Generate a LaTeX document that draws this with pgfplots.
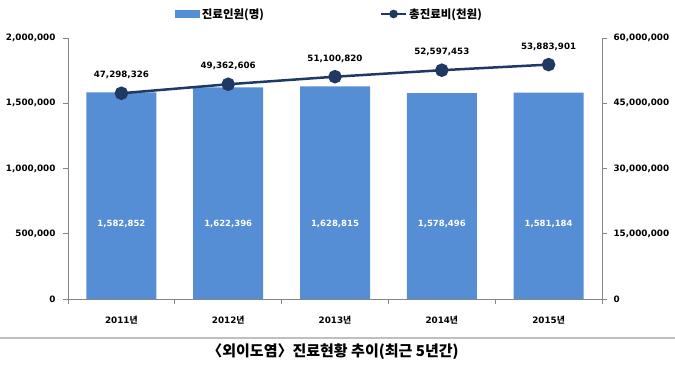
\documentclass[border=0pt]{standalone}
\usepackage{fontspec}
\usepackage{pgfplots}
\pgfplotsset{compat=1.18}
\usepackage{pgfplotstable}
\setmainfont{DejaVu Sans}
\newfontfamily\kr{Noto Sans CJK KR}
\definecolor{barblue}{RGB}{85,142,213}
\definecolor{navy}{RGB}{31,56,100}
\definecolor{axgray}{RGB}{134,134,134}

\pgfplotstableread{
x y ly lab
0 1582852 575000 1,582,852
1 1622396 575000 1,622,396
2 1628815 575000 1,628,815
3 1578496 575000 1,578,496
4 1581184 575000 1,581,184
}\bars

\pgfplotstableread{
x y lab
0 47298326 47,298,326
1 49362606 49,362,606
2 51100820 51,100,820
3 52597453 52,597,453
4 53883901 53,883,901
}\cost

\begin{document}
\begin{tikzpicture}
\useasboundingbox (0,0) rectangle (675pt,366pt);
\draw[black!25, line width=1.2pt] (0,28pt) -- (675pt,28pt);
\node[font=\kr\bfseries\fontsize{15}{17}\selectfont] at (333pt,14pt) {〈외이도염〉진료현황 추이(최근 5년간)};

\begin{axis}[
  at={(68pt,67pt)}, anchor=south west, scale only axis,
  width=534pt, height=261pt,
  xmin=-0.5, xmax=4.5, ymin=0, ymax=2000000,
  axis x line*=bottom, axis y line*=left,
  axis line style={draw=axgray, line width=0.8pt, -},
  tick align=outside,
  xtick={0,1,2,3,4},
  xticklabels={2011{\kr 년},2012{\kr 년},2013{\kr 년},2014{\kr 년},2015{\kr 년}},
  minor xtick={-0.5,0.5,1.5,2.5,3.5,4.5},
  major x tick style={draw=none},
  minor x tick style={draw=axgray, line width=0.8pt},
  minor tick length=5pt, major tick length=5pt,
  ytick={0,500000,1000000,1500000,2000000},
  ytick style={draw=axgray, line width=0.8pt},
  scaled y ticks=false,
  /pgf/number format/assume math mode=true,
  ticklabel style={font=\bfseries\fontsize{8.8}{10}\selectfont, text=black},
  xticklabel style={yshift=-9pt},
  yticklabel style={xshift=-4pt, /pgf/number format/.cd, fixed, precision=0, 1000 sep={,}, assume math mode=true},
]
\addplot[ybar, bar width=70pt, fill=barblue, draw=none] table[x=x, y=y] {\bars};
\addplot[draw=none, mark=none, nodes near coords, point meta=explicit symbolic,
  nodes near coords style={anchor=center, text=white, font=\bfseries\fontsize{8.5}{10}\selectfont}]
  table[x=x, y=ly, meta=lab] {\bars};
\end{axis}

\begin{axis}[
  at={(68pt,67pt)}, anchor=south west, scale only axis,
  width=534pt, height=261pt,
  xmin=-0.5, xmax=4.5, ymin=0, ymax=60000000,
  axis x line=none, axis y line*=right,
  axis line style={draw=axgray, line width=0.8pt, -},
  tick align=outside, major tick length=5pt,
  ytick={0,15000000,30000000,45000000,60000000},
  ytick style={draw=axgray, line width=0.8pt},
  scaled y ticks=false,
  /pgf/number format/assume math mode=true,
  ticklabel style={font=\bfseries\fontsize{8.8}{10}\selectfont, text=black},
  yticklabel style={xshift=3pt, /pgf/number format/.cd, fixed, precision=0, 1000 sep={,}, assume math mode=true},
  clip=false,
  legend columns=2,
  legend style={draw=none, fill=none, at={(0.49,1.092)}, anchor=center,
    font=\kr\bfseries\fontsize{11.5}{13}\selectfont,
    /tikz/every even column/.append style={column sep=114pt}},
]
\addlegendimage{legend image code/.code={\fill[barblue] (0pt,-3.5pt) rectangle (24pt,3.5pt);}}
\addlegendentry{진료인원(명)}
\addplot[navy, line width=2.5pt, mark=*, mark size=5.5pt, mark options={fill=navy, draw=navy},
  nodes near coords, point meta=explicit symbolic,
  nodes near coords style={anchor=center, yshift=18pt, text=black, font=\bfseries\fontsize{8.7}{10}\selectfont},
  legend image code/.code={\draw[navy, line width=2.2pt] (0pt,0pt) -- (25pt,0pt); \fill[navy] (12.5pt,0pt) circle (3pt);}]
  table[x=x, y=y, meta=lab] {\cost};
\addlegendentry{총진료비(천원)}
\end{axis}
\end{tikzpicture}
\end{document}
